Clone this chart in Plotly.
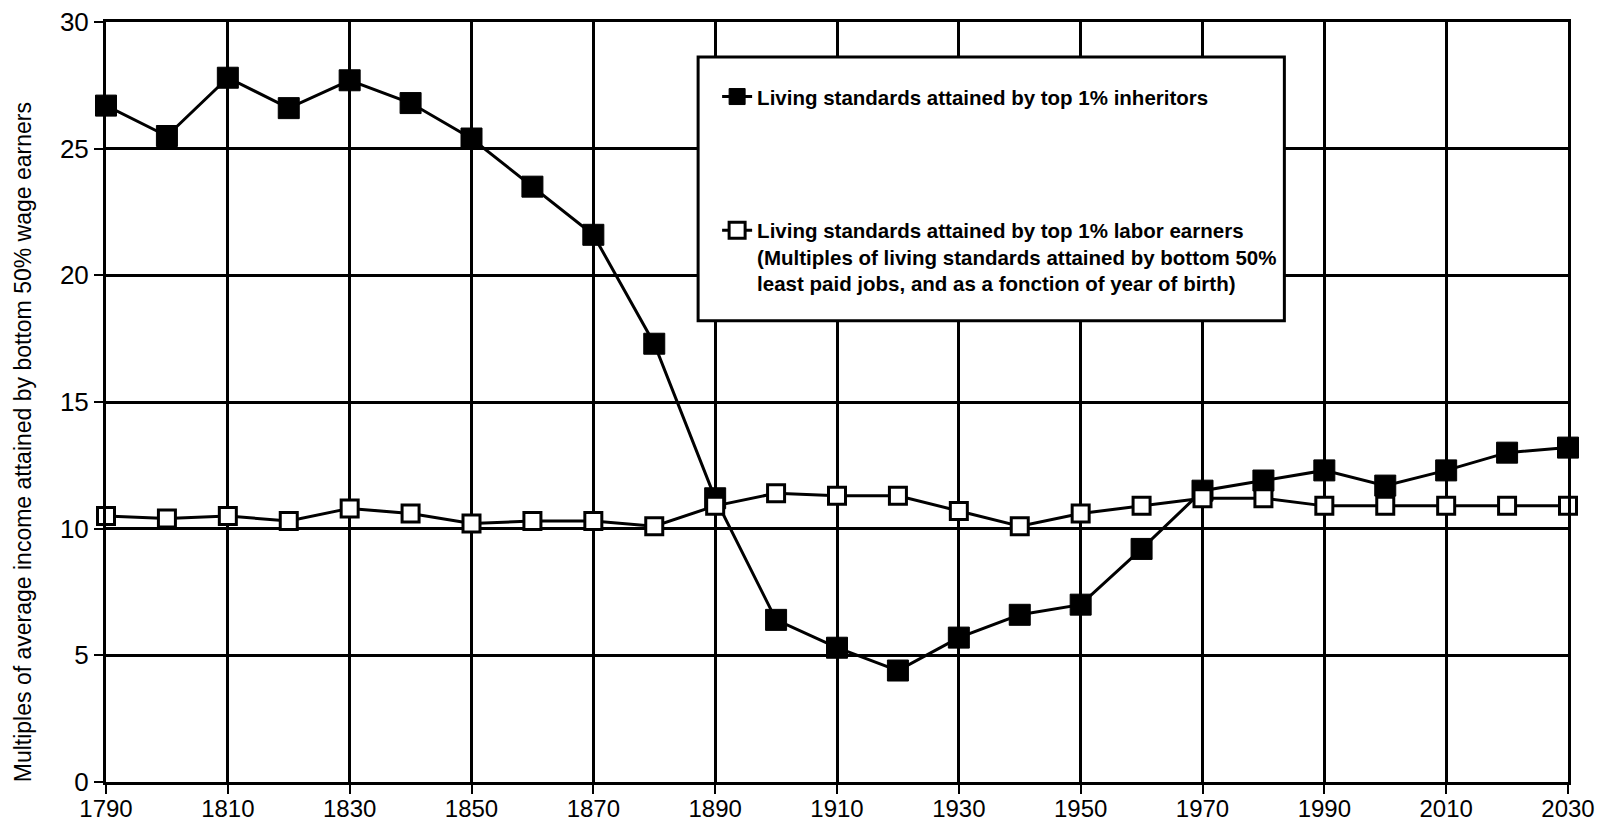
import plotly.graph_objects as go

# ── Data ───────────────────────────────────────────────────────────────────
years = [1790, 1800, 1810, 1820, 1830, 1840, 1850, 1860, 1870, 1880, 1890,
         1900, 1910, 1920, 1930, 1940, 1950, 1960, 1970, 1980, 1990, 2000,
         2010, 2020, 2030]

inheritors = [26.7, 25.5, 27.8, 26.6, 27.7, 26.8, 25.4, 23.5, 21.6, 17.3, 11.2,
              6.4, 5.3, 4.4, 5.7, 6.6, 7.0, 9.2, 11.5, 11.9, 12.3, 11.7,
              12.3, 13.0, 13.2]

labor_earners = [10.5, 10.4, 10.5, 10.3, 10.8, 10.6, 10.2, 10.3, 10.3, 10.1, 10.9,
                 11.4, 11.3, 11.3, 10.7, 10.1, 10.6, 10.9, 11.2, 11.2, 10.9, 10.9,
                 10.9, 10.9, 10.9]

name_inh = "Living standards attained by top 1% inheritors"
name_lab = ("Living standards attained by top 1% labor earners<br>"
            "(Multiples of living standards attained by bottom 50%<br>"
            "least paid jobs, and as a fonction of year of birth)")
y_title = "Multiples of average income attained by bottom 50% wage earners"

FONT = "Liberation Sans, Arial, sans-serif"

fig = go.Figure()
fig.add_trace(go.Scatter(
    x=years, y=inheritors, name=name_inh, mode="lines+markers",
    legendgroup="a",
    line={"color": "black", "width": 3},
    marker={"symbol": "square", "size": 21, "color": "black",
            "line": {"color": "black", "width": 1}},
    cliponaxis=False,
))
fig.add_trace(go.Scatter(
    x=years, y=labor_earners, name=name_lab, mode="lines+markers",
    legendgroup="b",
    line={"color": "black", "width": 3},
    marker={"symbol": "square", "size": 17, "color": "white",
            "line": {"color": "black", "width": 3}},
    cliponaxis=False,
))

# legend frame (white box hiding the grid behind the legend)
fig.add_shape(type="rect", xref="paper", yref="paper",
              x0=0.405, x1=0.806, y0=0.607, y1=0.954,
              line={"color": "black", "width": 3}, fillcolor="white",
              layer="above")

fig.add_annotation(
    text=y_title, textangle=-90, xref="paper", yref="paper",
    x=-0.0568, y=0.447, xanchor="center", yanchor="middle", showarrow=False,
    font={"family": FONT, "size": 23, "color": "black"},
)

# page body has an 8px margin, so the margins are shifted by 8
fig.update_layout(
    width=1620, height=839,
    paper_bgcolor="white", plot_bgcolor="white",
    margin={"l": 98, "r": 60, "t": 14, "b": 65},
    showlegend=True,
    legend={
        "x": 0.418, "y": 0.928, "xanchor": "left", "yanchor": "top",
        "bgcolor": "rgba(0,0,0,0)", "borderwidth": 0,
        "font": {"family": FONT, "size": 20.5, "color": "black", "weight": "bold"},
        "traceorder": "grouped", "tracegroupgap": 104, "valign": "top",
        "itemwidth": 30,
    },
    xaxis={
        "range": [1790, 2030], "tick0": 1790, "dtick": 20,
        "showgrid": True, "gridcolor": "black", "gridwidth": 3,
        "showline": True, "linecolor": "black", "linewidth": 3, "mirror": True,
        "ticks": "outside", "ticklen": 9, "tickwidth": 2, "tickcolor": "black",
        "tickfont": {"family": FONT, "size": 24, "color": "black"},
        "ticklabelstandoff": -6, "ticklabeloverflow": "allow",
        "zeroline": False, "automargin": False,
    },
    yaxis={
        "range": [0, 30], "dtick": 5,
        "showgrid": True, "gridcolor": "black", "gridwidth": 3,
        "showline": True, "linecolor": "black", "linewidth": 3, "mirror": True,
        "ticks": "outside", "ticklen": 9, "tickwidth": 2, "tickcolor": "black",
        "tickfont": {"family": FONT, "size": 26, "color": "black"},
        "ticklabeloverflow": "allow",
        "zeroline": False, "automargin": False,
    },
)

fig.write_html("out.html")
